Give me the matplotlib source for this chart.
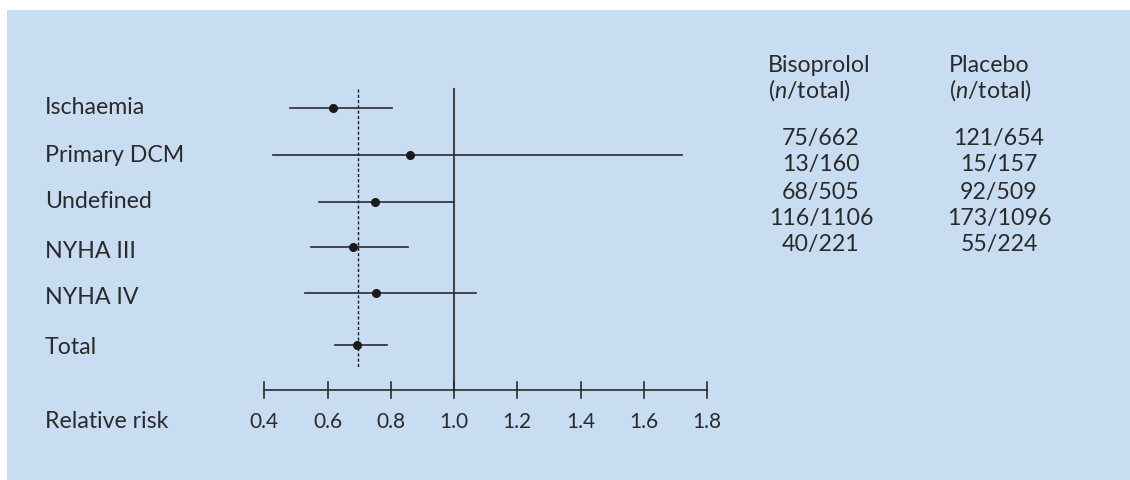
import matplotlib
matplotlib.use("Agg")
import matplotlib.pyplot as plt
from matplotlib.patches import Rectangle

plt.rcParams['font.family'] = ['Lato', 'DejaVu Sans']
plt.rcParams['mathtext.fontset'] = 'custom'
plt.rcParams['mathtext.it'] = 'Lato:italic'
plt.rcParams['mathtext.rm'] = 'Lato'

# ---- data ----
subgroups = ["Ischaemia", "Primary DCM", "Undefined", "NYHA III", "NYHA IV", "Total"]
rr = [0.616, 0.862, 0.750, 0.681, 0.752, 0.693]
ci_low = [0.480, 0.427, 0.574, 0.549, 0.530, 0.624]
ci_high = [0.803, 1.722, 1.000, 0.853, 1.069, 0.787]
overall_rr = 0.697
xticks = [0.4, 0.6, 0.8, 1.0, 1.2, 1.4, 1.6, 1.8]
xticklabels = ["0.4", "0.6", "0.8", "1.0", "1.2", "1.4", "1.6", "1.8"]
biso_counts = ["75/662", "13/160", "68/505", "116/1106", "40/221"]
placebo_counts = ["121/654", "15/157", "92/509", "173/1096", "55/224"]

# ---- layout (pixels) ----
W, H = 1130, 480
row_y = [108, 155, 202, 246.5, 292.5, 345]
label_y = [107, 155, 202, 251, 298, 347]
axis_y = 389.5
ref_top = 89
dash_bottom = 367
px_per_unit = 316.2
x0_px = 264.3  # pixel of 0.4

fig = plt.figure(figsize=(W / 100, H / 100), dpi=100, facecolor="white")
bg = "#c8ddf1"
fig.patches.append(Rectangle((7 / W, 0), 1 - 7 / W, 1 - 10 / H,
                             transform=fig.transFigure, facecolor=bg,
                             edgecolor="none", zorder=-10))

ax = fig.add_axes([0, 0, 1, 1])
ax.set_facecolor("none")
ax.set_zorder(5)
xmin = 0.4 - x0_px / px_per_unit
xmax = xmin + W / px_per_unit
ax.set_xlim(xmin, xmax)
ax.set_ylim(H, 0)
ax.axis("off")

line_col = "#2a2a2a"
# reference line at 1.0
ax.plot([1.0, 1.0], [ref_top, axis_y], color="#444444", lw=1.5, zorder=2)
# dashed overall line
ax.plot([overall_rr, overall_rr], [ref_top, dash_bottom], color="#1a1a1a",
        lw=1.0, ls=(0, (2.2, 1.6)), zorder=2)

# CIs and points
for y, r, lo, hi in zip(row_y, rr, ci_low, ci_high):
    ax.plot([lo, hi], [y, y], color=line_col, lw=1.2, zorder=3)
    ax.plot(r, y, "o", color="#1a1a1a", ms=5.5, zorder=4)

# custom axis
ax.plot([xticks[0], xticks[-1]], [axis_y, axis_y], color=line_col, lw=1.2)
for t, lab in zip(xticks, xticklabels):
    ax.plot([t, t], [axis_y - 8, axis_y + 8], color=line_col, lw=1.2)
    ax.text(t, 422, lab, ha="center", va="center", fontsize=15, color="#2a2a2a")

txt_col = "#2a2a2a"
fs = 16.7


def fx(px):
    return px / W


def fy(py):
    return 1 - py / H


for name, y in zip(subgroups, label_y):
    fig.text(fx(45), fy(y), name, ha="left", va="center", fontsize=fs, color=txt_col)
fig.text(fx(45), fy(422), "Relative risk", ha="left", va="center", fontsize=fs, color=txt_col)

# table headers
fig.text(fx(768), fy(65), "Bisoprolol", ha="left", va="center", fontsize=fs, color=txt_col)
fig.text(fx(768), fy(90), "($n$/total)", ha="left", va="center", fontsize=fs, color=txt_col)
fig.text(fx(949), fy(65), "Placebo", ha="left", va="center", fontsize=fs, color=txt_col)
fig.text(fx(949), fy(90), "($n$/total)", ha="left", va="center", fontsize=fs, color=txt_col)

table_y = [138, 165, 192, 218.5, 245]
for y, b, p in zip(table_y, biso_counts, placebo_counts):
    fig.text(fx(821), fy(y), b, ha="center", va="center", fontsize=fs, color=txt_col)
    fig.text(fx(999), fy(y), p, ha="center", va="center", fontsize=fs, color=txt_col)

fig.savefig("out.png", dpi=100, facecolor="white")
